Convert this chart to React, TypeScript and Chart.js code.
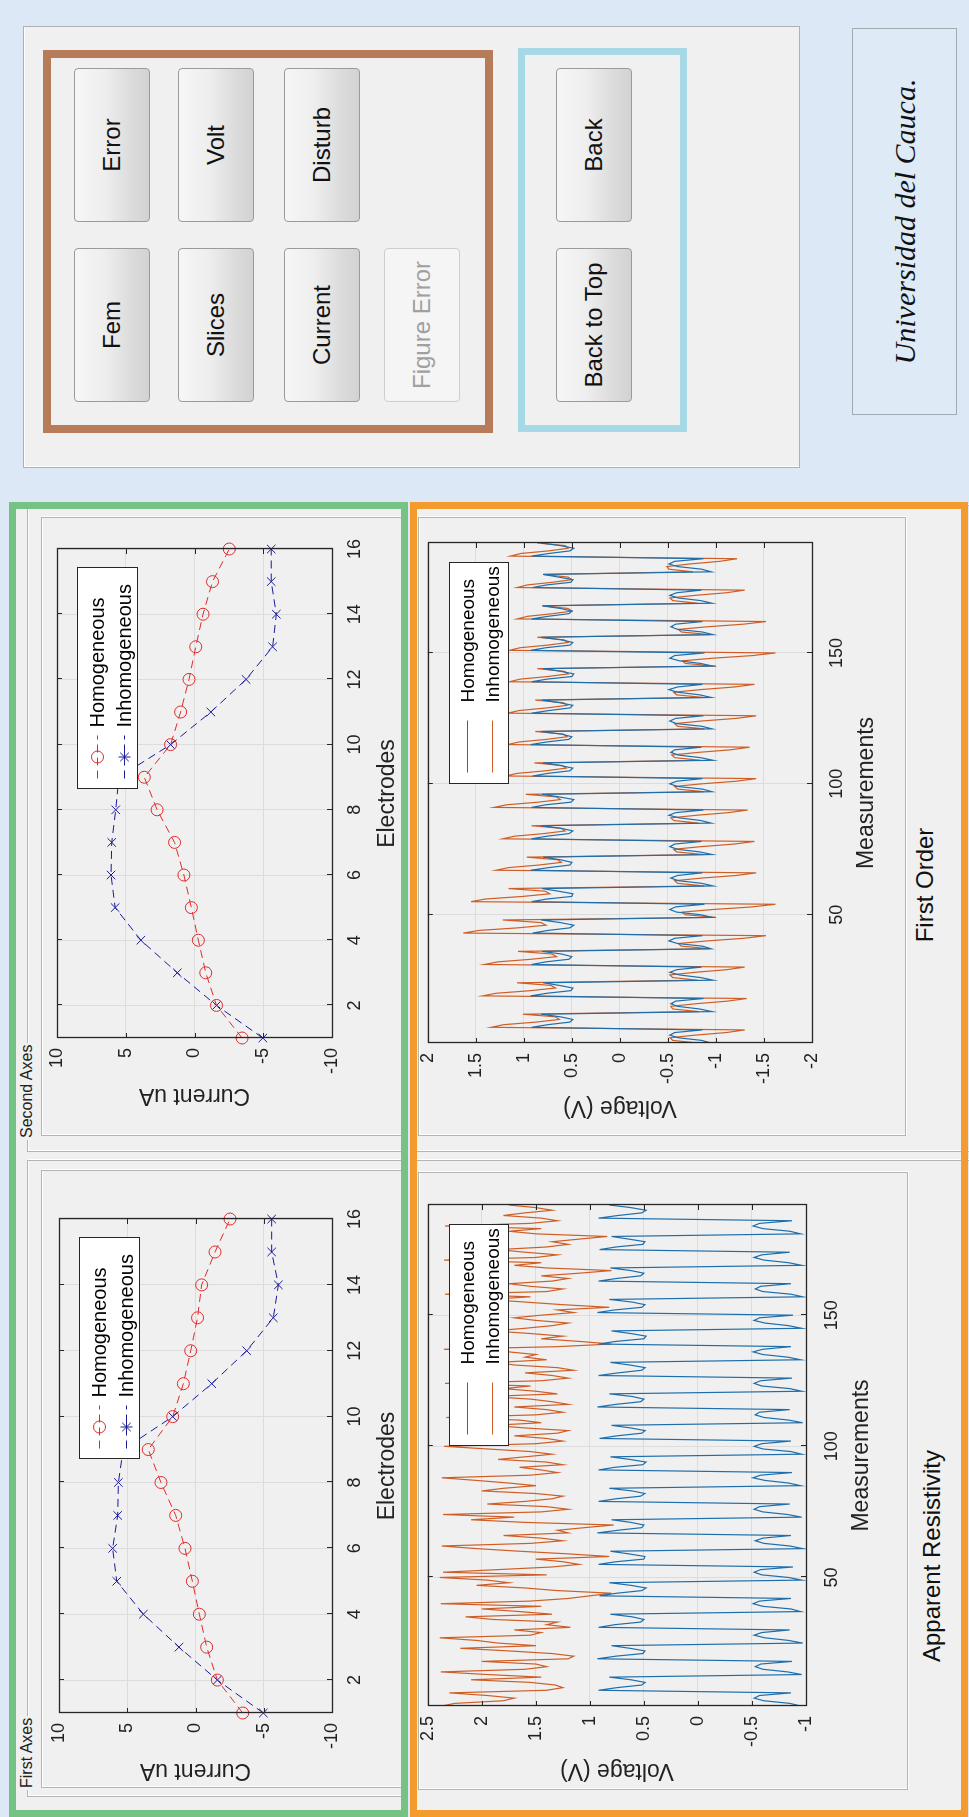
import React, { useEffect, useRef } from "react";
import { Chart, registerables } from "chart.js";

Chart.register(...registerables);

const FONT = "'Liberation Sans', Arial, Helvetica, sans-serif";

// ---------- data ----------
const electrodes = [1, 2, 3, 4, 5, 6, 7, 8, 9, 10, 11, 12, 13, 14, 15, 16];
const firstHomogeneous = [-3.46, -1.6, -0.82, -0.28, 0.23, 0.77, 1.45, 2.53, 3.46, 1.67, 0.89, 0.35, -0.15, -0.45, -1.43, -2.53];
const firstInhomogeneous = [-4.97, -1.6, 1.21, 3.82, 5.77, 6.07, 5.7, 5.65, 5.3, 1.67, -1.19, -3.75, -5.7, -6.07, -5.58, -5.58];
const secondHomogeneous = [-3.46, -1.6, -0.82, -0.28, 0.23, 0.77, 1.45, 2.72, 3.65, 1.74, 1.01, 0.4, -0.09, -0.62, -1.31, -2.53];
const secondInhomogeneous = [-4.97, -1.6, 1.25, 3.9, 5.77, 6.07, 6.02, 5.73, 5.5, 1.74, -1.19, -3.75, -5.68, -5.95, -5.58, -5.58];

const electrodeTicks = [2, 4, 6, 8, 10, 12, 14, 16];
const currentTicks = [-10, -5, 0, 5, 10];
const measurementTicks = [50, 100, 150];
const apparentTicks = [-1, -0.5, 0, 0.5, 1, 1.5, 2, 2.5];
const firstOrderTicks = [-2, -1.5, -1, -0.5, 0, 0.5, 1, 1.5, 2];

const homogeneousVoltage = [
  -0.95, -0.85, -0.61, -0.52, -0.57, -0.86, 0.92, 0.75, 0.52, 0.49, 0.62, 0.82,
  -0.96, -0.83, -0.6, -0.53, -0.58, -0.87, 0.93, 0.76, 0.51, 0.49, 0.63, 0.8,
  -0.97, -0.84, -0.62, -0.52, -0.59, -0.85, 0.92, 0.77, 0.53, 0.5, 0.61, 0.81,
  -0.95, -0.86, -0.6, -0.51, -0.57, -0.86, 0.91, 0.75, 0.52, 0.48, 0.62, 0.82,
  -0.96, -0.84, -0.59, -0.52, -0.58, -0.88, 0.92, 0.76, 0.5, 0.49, 0.64, 0.81,
  -0.97, -0.85, -0.61, -0.53, -0.6, -0.86, 0.93, 0.74, 0.52, 0.5, 0.62, 0.8,
  -0.96, -0.83, -0.6, -0.52, -0.57, -0.85, 0.92, 0.76, 0.53, 0.49, 0.61, 0.82,
  -0.95, -0.84, -0.62, -0.51, -0.58, -0.87, 0.92, 0.77, 0.51, 0.48, 0.63, 0.81,
  -0.96, -0.86, -0.6, -0.52, -0.59, -0.86, 0.91, 0.75, 0.52, 0.49, 0.62, 0.8,
  -0.97, -0.84, -0.61, -0.53, -0.57, -0.85, 0.93, 0.76, 0.53, 0.5, 0.61, 0.82,
  -0.96, -0.85, -0.59, -0.52, -0.58, -0.87, 0.92, 0.74, 0.52, 0.49, 0.63, 0.81,
  -0.95, -0.83, -0.6, -0.51, -0.6, -0.86, 0.92, 0.76, 0.5, 0.48, 0.62, 0.8,
  -0.96, -0.84, -0.62, -0.52, -0.57, -0.88, 0.93, 0.77, 0.52, 0.49, 0.61, 0.82,
  -0.97, -0.86, -0.6, -0.53, -0.58, -0.86, 0.92, 0.75, 0.53, 0.5, 0.62, 0.81,
  -0.96, -0.84, -0.61, -0.52, -0.59, -0.85, 0.91, 0.76, 0.51, 0.49, 0.64, 0.8,
  -0.95, -0.85, -0.6, -0.51, -0.57, -0.87, 0.92, 0.74, 0.52, 0.48, 0.62, 0.82,
];

const inhomogeneousFirstOrder = [
  -0.81, -0.55, -0.52, -0.78, -1.11, -1.3, 1.34, 1.21, 0.87, 0.63, 0.67, 1.01,
  -0.82, -0.55, -0.53, -0.79, -1.12, -1.32, 1.43, 1.29, 0.93, 0.67, 0.72, 1.07,
  -0.81, -0.55, -0.52, -0.78, -1.11, -1.3, 1.41, 1.27, 0.92, 0.66, 0.71, 1.06,
  -0.94, -0.64, -0.61, -0.91, -1.29, -1.52, 1.63, 1.47, 1.06, 0.77, 0.82, 1.22,
  -1.0, -0.68, -0.65, -0.97, -1.38, -1.62, 1.55, 1.4, 1.01, 0.73, 0.78, 1.16,
  -0.88, -0.6, -0.57, -0.85, -1.21, -1.42, 1.29, 1.16, 0.84, 0.61, 0.65, 0.97,
  -0.87, -0.59, -0.56, -0.84, -1.19, -1.4, 1.22, 1.1, 0.79, 0.57, 0.61, 0.92,
  -0.82, -0.56, -0.53, -0.8, -1.13, -1.33, 1.31, 1.18, 0.85, 0.62, 0.66, 0.98,
  -0.88, -0.6, -0.57, -0.85, -1.21, -1.42, 1.19, 1.07, 0.77, 0.56, 0.6, 0.89,
  -0.84, -0.57, -0.54, -0.81, -1.15, -1.35, 1.17, 1.05, 0.76, 0.55, 0.59, 0.88,
  -0.88, -0.6, -0.57, -0.85, -1.21, -1.42, 1.17, 1.05, 0.76, 0.55, 0.59, 0.88,
  -0.87, -0.59, -0.56, -0.84, -1.19, -1.4, 1.15, 1.04, 0.75, 0.54, 0.58, 0.86,
  -1.0, -0.68, -0.65, -0.97, -1.38, -1.62, 1.15, 1.04, 0.75, 0.54, 0.58, 0.86,
  -0.94, -0.64, -0.61, -0.91, -1.29, -1.52, 1.07, 0.96, 0.7, 0.5, 0.54, 0.8,
  -0.81, -0.55, -0.52, -0.78, -1.11, -1.3, 1.07, 0.96, 0.7, 0.5, 0.54, 0.8,
  -0.76, -0.51, -0.49, -0.73, -1.04, -1.22, 1.14, 1.03, 0.74, 0.54, 0.57, 0.86,
];

const inhomogeneousApparent = [
  2.37, 2.25, 1.8, 1.7, 1.95, 2.3, 1.4, 1.25, 1.32, 1.55, 2.1, 1.45,
  1.95, 2.38, 1.6, 1.4, 1.5, 2.0, 1.2, 1.15, 1.35, 1.75, 2.2, 1.5,
  1.85, 2.05, 2.39, 1.55, 1.45, 1.7, 1.18, 1.4, 1.3, 1.9, 2.15, 1.35,
  1.65, 2.0, 1.45, 2.38, 1.55, 1.2, 1.0, 0.8, 1.3, 1.6, 2.05, 1.75,
  1.95, 2.39, 1.4, 2.36, 1.85, 1.35, 1.1, 1.25, 1.5, 0.82, 1.2, 1.65,
  2.05, 2.37, 1.55, 1.25, 1.45, 1.8, 1.2, 1.3, 1.05, 0.78, 1.6, 2.1,
  1.7, 2.36, 1.45, 1.2, 1.4, 1.95, 1.6, 1.35, 1.25, 1.5, 2.0, 1.8,
  1.5, 1.75, 2.05, 2.37, 1.55, 1.3, 1.45, 1.65, 1.25, 1.4, 1.85, 1.6,
  1.35, 1.55, 1.95, 2.35, 1.5, 1.25, 1.4, 1.7, 1.3, 1.2, 1.6, 1.9,
  1.45, 1.65, 2.33, 1.5, 1.25, 1.4, 1.7, 1.2, 1.35, 1.55, 1.95, 1.3,
  1.5, 1.8, 1.55, 2.34, 1.45, 1.2, 1.35, 1.6, 1.15, 1.3, 1.7, 1.85,
  1.4, 1.6, 1.5, 1.75, 2.35, 1.3, 0.8, 1.1, 1.45, 1.25, 1.55, 1.9,
  1.6, 1.35, 1.2, 1.5, 1.7, 1.45, 1.15, 1.3, 0.82, 1.25, 1.6, 1.95,
  1.55, 2.34, 1.4, 1.25, 1.55, 1.75, 1.35, 1.2, 1.45, 1.1, 0.8, 1.4,
  1.7, 1.45, 2.35, 1.5, 1.3, 1.6, 1.85, 1.4, 1.2, 1.35, 1.1, 0.84,
  1.5, 1.75, 1.45, 2.34, 1.55, 1.3, 1.45, 1.8, 1.6, 1.35, 1.5, 1.75,
];

const measurements = homogeneousVoltage.map((_, i) => i + 1);

// ---------- styles ----------
const BG = "#dce8f6";
const PANEL = "#f0f0f0";
const RED = "#e02a2a";
const NAVY = "#1a1a96";
const MBLUE = "#1f6eaa";
const MORANGE = "#cf5e26";

type LegendRow = { label: string; color: string; dash: number[]; marker: "circle" | "star" | "none" };
type LegendSpec = {
  width: number; height: number; offsetRight: number; offsetTop: number;
  rowY: number[]; lineStart: number; lineEnd: number; textStart: number; fontSize: number;
  rows: LegendRow[];
};

function drawMarker(ctx: CanvasRenderingContext2D, kind: string, x: number, y: number, r: number, color: string) {
  if (kind === "none") return;
  ctx.save();
  ctx.setLineDash([]);
  ctx.strokeStyle = color;
  ctx.lineWidth = 1;
  ctx.beginPath();
  if (kind === "circle") ctx.arc(x, y, r, 0, Math.PI * 2);
  if (kind === "star") {
    const d = r * 0.7071;
    ctx.moveTo(x - d, y - d); ctx.lineTo(x + d, y + d);
    ctx.moveTo(x - d, y + d); ctx.lineTo(x + d, y - d);
    ctx.moveTo(x - r, y); ctx.lineTo(x + r, y);
    ctx.moveTo(x, y - r); ctx.lineTo(x, y + r);
  }
  ctx.stroke();
  ctx.restore();
}

function matlabFrame(legend: LegendSpec) {
  return {
    id: "matlabFrame",
    afterDraw(chart: any) {
      const { ctx, chartArea: a, scales } = chart;
      const xs = scales.x, ys = scales.y;
      ctx.save();
      ctx.strokeStyle = "#262626";
      ctx.lineWidth = 1;
      ctx.setLineDash([]);
      ctx.beginPath();
      xs.ticks.forEach((t: any) => {
        const px = Math.round(xs.getPixelForValue(t.value)) + 0.5;
        ctx.moveTo(px, a.bottom); ctx.lineTo(px, a.bottom - 5);
        ctx.moveTo(px, a.top); ctx.lineTo(px, a.top + 5);
      });
      ys.ticks.forEach((t: any) => {
        const py = Math.round(ys.getPixelForValue(t.value)) + 0.5;
        ctx.moveTo(a.left, py); ctx.lineTo(a.left + 5, py);
        ctx.moveTo(a.right, py); ctx.lineTo(a.right - 5, py);
      });
      ctx.stroke();
      ctx.lineWidth = 1.3;
      ctx.strokeRect(Math.round(a.left) + 0.5, Math.round(a.top) + 0.5, Math.round(a.right - a.left), Math.round(a.bottom - a.top));

      // legend box
      const x0 = Math.round(a.right - legend.offsetRight - legend.width) + 0.5;
      const y0 = Math.round(a.top + legend.offsetTop) + 0.5;
      ctx.fillStyle = "#ffffff";
      ctx.fillRect(x0, y0, legend.width, legend.height);
      ctx.strokeStyle = "#262626";
      ctx.lineWidth = 1;
      ctx.strokeRect(x0, y0, legend.width, legend.height);
      legend.rows.forEach((row, i) => {
        const y = y0 + legend.rowY[i];
        ctx.save();
        ctx.strokeStyle = row.color;
        ctx.lineWidth = 1.2;
        ctx.setLineDash(row.dash);
        ctx.beginPath();
        ctx.moveTo(x0 + legend.lineStart, y);
        ctx.lineTo(x0 + legend.lineEnd, y);
        ctx.stroke();
        ctx.restore();
        drawMarker(ctx, row.marker, x0 + (legend.lineStart + legend.lineEnd) / 2, y, 6, row.color);
        ctx.fillStyle = "#000";
        ctx.font = `${legend.fontSize}px ${FONT}`;
        ctx.textAlign = "left";
        ctx.textBaseline = "middle";
        ctx.fillText(row.label, x0 + legend.textStart, y + 1);
      });
      ctx.restore();
    },
  };
}

type PlotProps = {
  left: number; top: number; width: number; height: number;
  padTop: number; padRight: number; yAxisWidth: number; xAxisHeight: number;
  xMin: number; xMax: number; xTicks: number[];
  yMin: number; yMax: number; yTicks: number[];
  xTitle: string; yTitle: string;
  xTickPad: number; xTitlePad: number; yTitlePad: number;
  datasets: any[]; legend: LegendSpec;
};

function MatlabPlot(p: PlotProps) {
  const ref = useRef<HTMLCanvasElement | null>(null);
  useEffect(() => {
    if (!ref.current) return;
    const tickFont = { family: FONT, size: 18 };
    const titleFont = { family: FONT, size: 23 };
    const chart = new Chart(ref.current, {
      type: "line",
      data: { datasets: p.datasets },
      options: {
        responsive: false,
        animation: false,
        devicePixelRatio: 1,
        events: [],
        layout: { padding: { top: p.padTop, right: p.padRight, left: 0, bottom: 0 } },
        plugins: { legend: { display: false }, tooltip: { enabled: false } },
        scales: {
          x: {
            type: "linear",
            min: p.xMin,
            max: p.xMax,
            afterBuildTicks: (s: any) => { s.ticks = p.xTicks.map((v) => ({ value: v })); },
            afterFit: (s: any) => { s.height = p.xAxisHeight; },
            grid: { color: "#dcdcdc", drawTicks: false, lineWidth: 1 },
            border: { display: false },
            ticks: {
              color: "#222", font: tickFont, padding: p.xTickPad, autoSkip: false,
              maxRotation: 0, minRotation: 0, callback: (v: any) => String(v),
            },
            title: { display: true, text: p.xTitle, color: "#222", font: titleFont, padding: { top: 0, bottom: p.xTitlePad } },
          },
          y: {
            type: "linear",
            min: p.yMin,
            max: p.yMax,
            afterBuildTicks: (s: any) => { s.ticks = p.yTicks.map((v) => ({ value: v })); },
            afterFit: (s: any) => { s.width = p.yAxisWidth; },
            grid: { color: "#dcdcdc", drawTicks: false, lineWidth: 1 },
            border: { display: false },
            ticks: { color: "#222", font: tickFont, padding: 10, autoSkip: false, callback: (v: any) => String(v) },
            title: { display: true, text: p.yTitle, color: "#222", font: titleFont, padding: { top: p.yTitlePad, bottom: 0 } },
          },
        },
      } as any,
      plugins: [matlabFrame(p.legend)],
    });
    return () => chart.destroy();
  }, []);
  return (
    <canvas
      ref={ref}
      width={p.width}
      height={p.height}
      style={{ position: "absolute", left: p.left, top: p.top, width: p.width, height: p.height }}
    />
  );
}

function currentDatasets(hom: number[], inh: number[]) {
  return [
    {
      label: "Homogeneous",
      data: electrodes.map((e, i) => ({ x: e, y: hom[i] })),
      borderColor: RED, borderWidth: 1, borderDash: [8, 5], tension: 0, fill: false,
      pointStyle: "circle", pointRadius: 6, pointBorderColor: RED, pointBorderWidth: 1,
      pointBackgroundColor: "rgba(0,0,0,0)", clip: false,
    },
    {
      label: "Inhomogeneous",
      data: electrodes.map((e, i) => ({ x: e, y: inh[i] })),
      borderColor: NAVY, borderWidth: 1, borderDash: [8, 5], tension: 0, fill: false,
      pointStyle: "crossRot", pointRadius: 6, pointBorderColor: NAVY, pointBorderWidth: 1,
      pointBackgroundColor: "rgba(0,0,0,0)", clip: false,
    },
  ];
}

function voltageDatasets(inh: number[]) {
  return [
    {
      label: "Homogeneous",
      data: measurements.map((m, i) => ({ x: m, y: homogeneousVoltage[i] })),
      borderColor: MBLUE, borderWidth: 1.2, tension: 0, pointRadius: 0, fill: false,
    },
    {
      label: "Inhomogeneous",
      data: measurements.map((m, i) => ({ x: m, y: inh[i] })),
      borderColor: MORANGE, borderWidth: 1.2, tension: 0, pointRadius: 0, fill: false,
    },
  ];
}

const currentLegend: LegendSpec = {
  width: 221, height: 60, offsetRight: 19, offsetTop: 20, rowY: [20, 47],
  lineStart: 10, lineEnd: 53, textStart: 61, fontSize: 20,
  rows: [
    { label: "Homogeneous", color: RED, dash: [8, 5], marker: "circle" },
    { label: "Inhomogeneous", color: NAVY, dash: [8, 5], marker: "star" },
  ],
};

const voltageLegend: LegendSpec = {
  width: 221, height: 59, offsetRight: 20, offsetTop: 21, rowY: [18, 43],
  lineStart: 11, lineEnd: 63, textStart: 81, fontSize: 19,
  rows: [
    { label: "Homogeneous", color: MBLUE, dash: [], marker: "none" },
    { label: "Inhomogeneous", color: MORANGE, dash: [], marker: "none" },
  ],
};

const abs = (left: number, top: number, width: number, height: number, extra: any = {}) => ({
  position: "absolute" as const, left, top, width, height, boxSizing: "border-box" as const, ...extra,
});

const panelStyle = (l: number, t: number, w: number, h: number) =>
  abs(l, t, w, h, { border: "1px solid #b4b4b4", boxShadow: "inset 1px 1px 0 #ffffff, 1px 1px 0 #ffffff" });

function Btn(props: { x: number; y: number; label: string; disabled?: boolean }) {
  const d = props.disabled;
  return (
    <div
      style={abs(props.x, props.y, 154, 76, {
        border: d ? "1px solid #cdcdcd" : "1px solid #9a9a9a",
        borderRadius: 4,
        background: d ? "#f5f5f5" : "linear-gradient(to bottom, #f6f6f6 0%, #eeeeee 40%, #dcdcdc 75%, #d2d2d2 100%)",
        display: "flex", alignItems: "center", justifyContent: "center",
        fontSize: 24, color: d ? "#a0a0a0" : "#111", fontFamily: FONT,
      })}
    >
      {props.label}
    </div>
  );
}

function PanelTitle(props: { x: number; y: number; text: string }) {
  return (
    <div style={{ position: "absolute", left: props.x, top: props.y - 10, height: 20, lineHeight: "20px", fontSize: 16, color: "#222", background: PANEL, padding: "0 2px", fontFamily: FONT, whiteSpace: "nowrap" }}>
      {props.text}
    </div>
  );
}

function CenterText(props: { cx: number; cy: number; text: string; size: number }) {
  return (
    <div style={{ position: "absolute", left: props.cx - 200, top: props.cy - 15, width: 400, height: 30, lineHeight: "30px", textAlign: "center", fontSize: props.size, color: "#111", fontFamily: FONT }}>
      {props.text}
    </div>
  );
}

export default function App() {
  return (
    <div style={{ position: "absolute", left: 0, top: 0, width: 969, height: 1817, overflow: "hidden", background: BG }}>
      <div
        style={{
          position: "absolute", left: 0, top: 0, width: 1817, height: 969,
          transformOrigin: "0 0", transform: "translate(0px, 1817px) rotate(-90deg)",
          background: BG, fontFamily: FONT,
        }}
      >
        {/* green and orange areas (backgrounds) */}
        <div style={abs(0, 9, 1315, 399, { background: PANEL })} />
        <div style={abs(0, 410, 1315, 558, { background: PANEL })} />

        {/* axes panels in green area */}
        <div style={panelStyle(20, 27, 637, 377)} />
        <div style={panelStyle(29, 41, 618, 363)} />
        <div style={panelStyle(665, 27, 647, 377)} />
        <div style={panelStyle(681, 41, 619, 363)} />
        <PanelTitle x={27} y={27} text="First Axes" />
        <PanelTitle x={677} y={27} text="Second Axes" />

        {/* panels in orange area */}
        <div style={panelStyle(-20, 412, 677, 560)} />
        <div style={panelStyle(665, 412, 647, 560)} />
        <div style={panelStyle(27, 418, 618, 490)} />
        <div style={panelStyle(681, 418, 619, 488)} />

        {/* charts */}
        <MatlabPlot
          left={20} top={20} width={600} height={400} padTop={39} padRight={16}
          yAxisWidth={84} xAxisHeight={88}
          xMin={1} xMax={16} xTicks={electrodeTicks} yMin={-10} yMax={10} yTicks={currentTicks}
          xTitle="Electrodes" yTitle="Current uA" xTickPad={12} xTitlePad={19} yTitlePad={13}
          datasets={currentDatasets(firstHomogeneous, firstInhomogeneous)} legend={currentLegend}
        />
        <MatlabPlot
          left={695} top={20} width={595} height={400} padTop={37} padRight={16}
          yAxisWidth={84} xAxisHeight={88}
          xMin={1} xMax={16} xTicks={electrodeTicks} yMin={-10} yMax={10} yTicks={currentTicks}
          xTitle="Electrodes" yTitle="Current uA" xTickPad={12} xTitlePad={19} yTitlePad={13}
          datasets={currentDatasets(secondHomogeneous, secondInhomogeneous)} legend={currentLegend}
        />
        <MatlabPlot
          left={27} top={407} width={601} height={493} padTop={14} padRight={16}
          yAxisWidth={84} xAxisHeight={94}
          xMin={1} xMax={192} xTicks={measurementTicks} yMin={-1} yMax={2.5} yTicks={apparentTicks}
          xTitle="Measurements" yTitle="Voltage (V)" xTickPad={15} xTitlePad={25} yTitlePad={6}
          datasets={voltageDatasets(inhomogeneousApparent)} legend={voltageLegend}
        />
        <MatlabPlot
          left={690} top={407} width={600} height={493} padTop={14} padRight={16}
          yAxisWidth={84} xAxisHeight={88}
          xMin={1} xMax={192} xTicks={measurementTicks} yMin={-2} yMax={2} yTicks={firstOrderTicks}
          xTitle="Measurements" yTitle="Voltage (V)" xTickPad={14} xTitlePad={20} yTitlePad={6}
          datasets={voltageDatasets(inhomogeneousFirstOrder)} legend={voltageLegend}
        />

        <CenterText cx={261} cy={932} text="Apparent Resistivity" size={24} />
        <CenterText cx={932} cy={925} text="First Order" size={24} />

        {/* coloured frames */}
        <div style={abs(0, 9, 1315, 399, { border: "7px solid #74c385", pointerEvents: "none" })} />
        <div style={abs(0, 410, 1315, 558, { border: "7px solid #f39b2f", pointerEvents: "none" })} />

        {/* button panel */}
        <div style={abs(1349, 23, 442, 777, { background: PANEL, border: "1px solid #b0b0b0", boxShadow: "inset 1px 1px 0 #ffffff" })} />
        <div style={abs(1384, 43, 383, 450, { border: "8px solid #b87b5a" })} />
        <div style={abs(1385, 518, 384, 169, { border: "7px solid #a6d8e6" })} />
        <Btn x={1415} y={74} label="Fem" />
        <Btn x={1595} y={74} label="Error" />
        <Btn x={1415} y={178} label="Slices" />
        <Btn x={1595} y={178} label="Volt" />
        <Btn x={1415} y={284} label="Current" />
        <Btn x={1595} y={284} label="Disturb" />
        <Btn x={1415} y={384} label="Figure Error" disabled />
        <Btn x={1415} y={556} label="Back to Top" />
        <Btn x={1595} y={556} label="Back" />

        {/* university box */}
        <div
          style={abs(1402, 852, 387, 105, {
            border: "1px solid #a3a9b0", background: "#dfeaf7",
            display: "flex", alignItems: "center", justifyContent: "center",
            fontFamily: "'Liberation Serif', 'DejaVu Serif', serif", fontStyle: "italic", fontSize: 30, color: "#111",
          })}
        >
          Universidad del Cauca.
        </div>
      </div>
    </div>
  );
}
